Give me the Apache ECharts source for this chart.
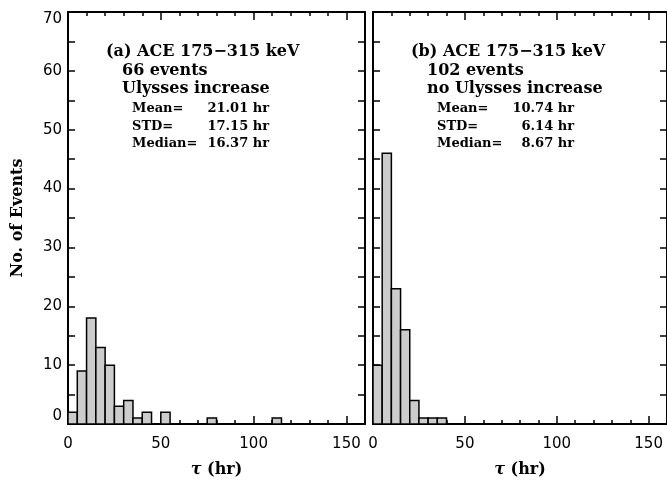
<!DOCTYPE html>
<html>
<head>
<meta charset="utf-8">
<script src="https://cdn.jsdelivr.net/npm/echarts@6/dist/echarts.min.js"></script>
<style>
  html, body { margin: 0; padding: 0; background: #fff; }
  #main { width: 667px; height: 483px; }
</style>
</head>
<body>
<div id="main"></div>
<script>
// histogram bins (5 hr wide), start of each bin and event count
const binWidth = 5
const binStartsA = [0, 5, 10, 15, 20, 25, 30, 35, 40, 45, 50, 75, 110]
const countsA = [2, 9, 18, 13, 10, 3, 4, 1, 2, 0, 2, 1, 1]
const binStartsB = [0, 5, 10, 15, 20, 25, 30, 35]
const countsB = [10, 46, 23, 16, 4, 1, 1, 1]

// panel text
const headA = ['(a) ACE 175\u2212315 keV', '66 events', 'Ulysses increase']
const headB = ['(b) ACE 175\u2212315 keV', '102 events', 'no Ulysses increase']
const statNames = ['Mean=', 'STD=', 'Median=']
const statsA = ['21.01 hr', '17.15 hr', '16.37 hr']
const statsB = ['10.74 hr', '6.14 hr', '8.67 hr']

let myChart = echarts.init(document.getElementById('main'))

const serif = '"DejaVu Serif", "Liberation Serif", serif'
const labelFont = { color: '#000', fontFamily: '"DejaVu Sans", sans-serif', fontSize: 15 }

function xAxes(gridIndex, pos, withLabel) {
  return {
    type: 'value', gridIndex: gridIndex, position: pos, min: 0, max: 160, interval: 50,
    axisLine: { show: true, onZero: false, lineStyle: { color: '#000', width: 2 } },
    axisTick: { show: true, inside: true, length: 8, lineStyle: { color: '#000', width: 1.5 } },
    minorTick: { show: true, splitNumber: 5, length: 4, lineStyle: { color: '#000', width: 1.5 } },
    splitLine: { show: false },
    axisLabel: withLabel ? Object.assign({ show: true, margin: 13, showMaxLabel: false }, labelFont) : { show: false },
    name: withLabel ? '{t|\u03c4} (hr)' : '',
    nameLocation: 'middle', nameGap: 38,
    nameTextStyle: { color: '#000', fontFamily: serif, fontWeight: 'bold', fontSize: 16,
      rich: { t: { fontFamily: serif, fontWeight: 'bold', fontStyle: 'italic', fontSize: 16, color: '#000' } } }
  }
}

function yAxes(gridIndex, pos, withLabel) {
  return {
    type: 'value', gridIndex: gridIndex, position: pos, min: 0, max: 70, interval: 10,
    axisLine: { show: true, onZero: false, lineStyle: { color: '#000', width: 2 } },
    axisTick: { show: true, inside: true, length: 7, lineStyle: { color: '#000', width: 1.5 } },
    minorTick: { show: true, splitNumber: 2, length: 7, lineStyle: { color: '#000', width: 1.5 } },
    splitLine: { show: false },
    axisLabel: withLabel ? Object.assign({
      show: true, margin: 6, verticalAlignMinLabel: 'bottom', verticalAlignMaxLabel: 'top'
    }, labelFont) : { show: false },
    name: withLabel ? 'No. of Events' : '',
    nameLocation: 'middle', nameGap: 42, nameRotate: 90,
    nameTextStyle: { color: '#000', fontFamily: serif, fontWeight: 'bold', fontSize: 16 }
  }
}

function renderBin(params, api) {
  let x0 = api.value(0)
  let n = api.value(1)
  if (!n) return
  let p0 = api.coord([x0, 0])
  let p1 = api.coord([x0 + binWidth, n])
  return {
    type: 'rect',
    shape: { x: p0[0], y: p1[1], width: p1[0] - p0[0], height: p0[1] - p1[1] },
    style: { fill: '#cccccc', stroke: '#000', lineWidth: 1.5 }
  }
}

// text block inside a panel, x offsets from the panel's left edge
function panelText(panelLeft, head, values) {
  let items = []
  let headY = [51.5, 70.5, 88.5]
  let statY = [109, 126.5, 144]
  head.forEach((t, i) => {
    items.push({
      type: 'text', x: panelLeft + (i === 0 ? 38 : 54), y: headY[i],
      style: { text: t, fill: '#000', font: 'bold 16px ' + serif, textAlign: 'left', textVerticalAlign: 'middle' }
    })
  })
  statNames.forEach((t, i) => {
    items.push({
      type: 'text', x: panelLeft + 64, y: statY[i],
      style: { text: t, fill: '#000', font: 'bold 13px ' + serif, textAlign: 'left', textVerticalAlign: 'middle' }
    })
    items.push({
      type: 'text', x: panelLeft + 201, y: statY[i],
      style: { text: values[i], fill: '#000', font: 'bold 13px ' + serif, textAlign: 'right', textVerticalAlign: 'middle' }
    })
  })
  return items
}

let option = {
  animation: false,
  backgroundColor: '#fff',
  grid: [
    { left: 68, top: 12, width: 297, height: 416 },
    { left: 373, top: 12, width: 297, height: 416 }
  ],
  xAxis: [xAxes(0, 'bottom', true), xAxes(0, 'top', false), xAxes(1, 'bottom', true), xAxes(1, 'top', false)],
  yAxis: [yAxes(0, 'left', true), yAxes(0, 'right', false), yAxes(1, 'left', false), yAxes(1, 'right', false)],
  series: [
    {
      type: 'custom', xAxisIndex: 0, yAxisIndex: 0, renderItem: renderBin,
      data: binStartsA.map((s, i) => [s, countsA[i]])
    },
    {
      type: 'custom', xAxisIndex: 2, yAxisIndex: 2, renderItem: renderBin,
      data: binStartsB.map((s, i) => [s, countsB[i]])
    }
  ],
  graphic: [].concat(panelText(68, headA, statsA), panelText(373, headB, statsB))
}
myChart.setOption(option, true)
</script>
</body>
</html>
